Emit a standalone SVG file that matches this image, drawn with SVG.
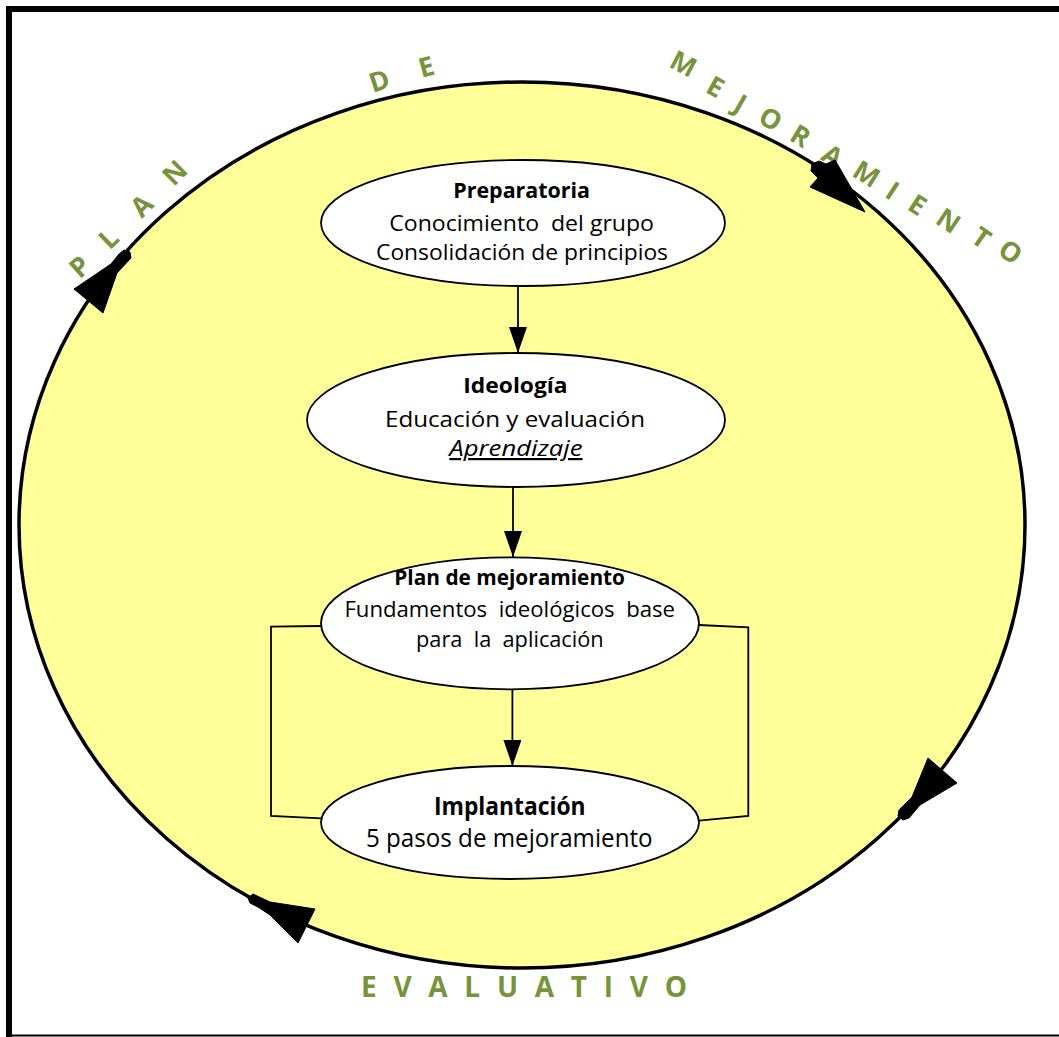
<svg xmlns="http://www.w3.org/2000/svg" width="1059" height="1037" viewBox="0 0 1059 1037">
<style>
.node{fill:#ffffff;stroke:#000000;stroke-width:1.8}
.t{font-family:"Open Sans","Liberation Sans",sans-serif;font-size:22px;fill:#000000}
.b{font-weight:bold}
.big{font-size:25px}
.arc{font-family:"Open Sans","Liberation Sans",sans-serif;font-weight:bold;font-size:27px;fill:#77933C;text-anchor:middle;dominant-baseline:central}
.conn{stroke:#000000;stroke-width:1.8;fill:none}
.head{fill:#000000;stroke:#000000;stroke-width:1;stroke-linejoin:round}
</style>
<defs>
<marker id="arr" markerUnits="userSpaceOnUse" markerWidth="26" markerHeight="18" refX="26" refY="9" orient="auto">
<path d="M0,0 L26,9 L0,18 z" fill="#000000"/>
</marker>
</defs>
<rect width="1059" height="1037" fill="#ffffff"/>
<g id="frame">
<rect x="6" y="6" width="1053" height="6" fill="#000000"/>
<rect x="6" y="6" width="6" height="1031" fill="#000000"/>
<rect x="6" y="1034.5" width="1053" height="2" fill="#000000"/>
</g>
<g id="cycle">
<ellipse cx="522" cy="525" rx="503" ry="443" fill="#FFFF99" stroke="#000000" stroke-width="3.5"/>
</g>
<g id="cycle-labels">
<text class="arc" x="79" y="266" transform="rotate(-42 79 266)">P</text>
<text class="arc" x="108" y="238" transform="rotate(-44 108 238)">L</text>
<text class="arc" x="141" y="205" transform="rotate(-45 141 205)">A</text>
<text class="arc" x="174" y="172" transform="rotate(-45 174 172)">N</text>
<text class="arc" x="379" y="80" transform="rotate(-18 379 80)">D</text>
<text class="arc" x="426" y="66" transform="rotate(-15 426 66)">E</text>
<text class="arc" x="684" y="63" transform="rotate(28 684 63)">M</text>
<text class="arc" x="716" y="86" transform="rotate(29 716 86)">E</text>
<text class="arc" x="741" y="103" transform="rotate(30 741 103)">J</text>
<text class="arc" x="771" y="118" transform="rotate(30 771 118)">O</text>
<text class="arc" x="801" y="135" transform="rotate(31 801 135)">R</text>
<text class="arc" x="833" y="155" transform="rotate(32 833 155)">A</text>
<text class="arc" x="867" y="173" transform="rotate(32 867 173)">M</text>
<text class="arc" x="893" y="190" transform="rotate(33 893 190)">I</text>
<text class="arc" x="918" y="204" transform="rotate(33 918 204)">E</text>
<text class="arc" x="949" y="220" transform="rotate(34 949 220)">N</text>
<text class="arc" x="982" y="237" transform="rotate(35 982 237)">T</text>
<text class="arc" x="1011" y="251" transform="rotate(35 1011 251)">O</text>
<text x="361" y="997" font-family="Open Sans, Liberation Sans, sans-serif" font-weight="bold" font-size="28" fill="#77933C" textLength="326" lengthAdjust="spacing">E V A L U A T I V O</text>
</g>
<g id="brackets">
<polyline class="conn" points="321.3,626 271,626.7 271,816 321.3,818.3"/>
<polyline class="conn" points="699,625 748.3,627.3 748.3,816 699,820.7"/>
</g>
<g id="node-preparatoria">
<ellipse class="node" cx="523" cy="223" rx="202" ry="63"/>
<text class="t b" x="453.3" y="198.3" textLength="136.7" lengthAdjust="spacingAndGlyphs">Preparatoria</text>
<text class="t" x="389.3" y="230.7" textLength="264.7" lengthAdjust="spacingAndGlyphs" xml:space="preserve">Conocimiento  del grupo</text>
<text class="t" x="376" y="260" textLength="292" lengthAdjust="spacingAndGlyphs">Consolidación de principios</text>
</g>
<g id="node-ideologia">
<ellipse class="node" cx="516" cy="420" rx="209" ry="67"/>
<text class="t b" x="463.3" y="393.3" textLength="104.3" lengthAdjust="spacingAndGlyphs">Ideología</text>
<text class="t" x="385" y="426.7" textLength="260" lengthAdjust="spacingAndGlyphs">Educación y evaluación</text>
<text class="t" x="449.3" y="456" font-style="italic" text-decoration="underline" textLength="133.3" lengthAdjust="spacingAndGlyphs">Aprendizaje</text>
</g>
<g id="node-plan">
<ellipse class="node" cx="510" cy="623.3" rx="189" ry="66"/>
<text class="t b" x="394.3" y="585" textLength="230.7" lengthAdjust="spacingAndGlyphs">Plan de mejoramiento</text>
<text class="t" x="344.4" y="616.7" textLength="330.6" lengthAdjust="spacingAndGlyphs" xml:space="preserve">Fundamentos  ideológicos  base</text>
<text class="t" x="416" y="646.7" textLength="187.7" lengthAdjust="spacingAndGlyphs" xml:space="preserve">para  la  aplicación</text>
</g>
<g id="node-implantacion">
<ellipse class="node" cx="510" cy="822.5" rx="189" ry="56.5"/>
<text class="t b big" x="434" y="815" textLength="151.5" lengthAdjust="spacingAndGlyphs">Implantación</text>
<text class="t big" x="366" y="846.7" textLength="286.6" lengthAdjust="spacingAndGlyphs">5 pasos de mejoramiento</text>
</g>
<g id="connectors">
<line class="conn" x1="518" y1="287" x2="518" y2="353" marker-end="url(#arr)"/>
<line class="conn" x1="513" y1="487" x2="513" y2="557" marker-end="url(#arr)"/>
<line class="conn" x1="512.4" y1="689.5" x2="512.4" y2="766" marker-end="url(#arr)"/>
<polygon class="head" points="810,187 818,178 811,171 812,164 819,161 826,164 835,160 865,212"/>
<polygon class="head" points="74,289 111,264 119,254 124,250 130,252 131,258 117,273 103,313"/>
<polygon class="head" points="928,758 957,783 920,805 909,818 903,820 898,816 899,810 912,797"/>
<polygon class="head" points="315,909 298,943 270,915 258,907 250,903 248,898 253,894 270,902"/>
</g>
</svg>
